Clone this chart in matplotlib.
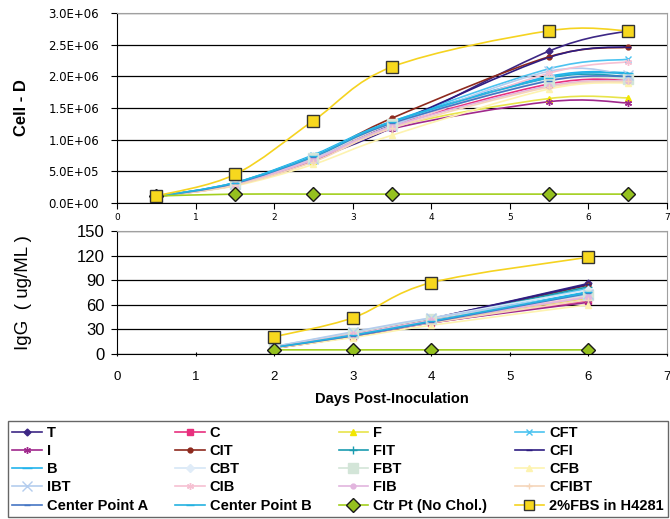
import matplotlib
matplotlib.use("Agg")
import matplotlib.pyplot as plt
from matplotlib.path import Path
from matplotlib.patches import PathPatch
from matplotlib.lines import Line2D

plt.rcParams["font.family"] = ["Liberation Sans", "DejaVu Sans"]

# sampling days for each assay
days_cell = [0.5, 1.5, 2.5, 3.5, 5.5, 6.5]
days_igg = [2, 3, 4, 6]

# series names, in the order the legend reads (row by row)
names = ["T", "C", "F", "CFT",
         "I", "CIT", "FIT", "CFI",
         "B", "CBT", "FBT", "CFB",
         "IBT", "CIB", "FIB", "CFIBT",
         "Center Point A", "Center Point B", "Ctr Pt (No Chol.)", "2%FBS in H4281"]

# cell density per series
cell_T = [1.0e5, 3.0e5, 6.9e5, 1.19e6, 2.40e6, 2.72e6]
cell_C = [1.0e5, 2.9e5, 6.8e5, 1.22e6, 1.88e6, 1.95e6]
cell_F = [1.0e5, 2.9e5, 6.7e5, 1.20e6, 1.65e6, 1.66e6]
cell_CFT = [1.0e5, 3.2e5, 7.5e5, 1.28e6, 2.12e6, 2.27e6]
cell_I = [1.0e5, 2.8e5, 6.6e5, 1.17e6, 1.60e6, 1.58e6]
cell_CIT = [1.0e5, 3.0e5, 7.2e5, 1.34e6, 2.31e6, 2.46e6]
cell_FIT = [1.0e5, 3.1e5, 7.3e5, 1.26e6, 1.97e6, 2.00e6]
cell_CFI = [1.0e5, 3.0e5, 7.0e5, 1.24e6, 2.30e6, 2.47e6]
cell_B = [1.0e5, 3.2e5, 7.6e5, 1.29e6, 2.00e6, 2.06e6]
cell_CBT = [1.0e5, 3.1e5, 7.4e5, 1.27e6, 1.95e6, 1.98e6]
cell_FBT = [1.0e5, 3.0e5, 7.1e5, 1.25e6, 1.93e6, 1.96e6]
cell_CFB = [1.0e5, 2.7e5, 6.1e5, 1.07e6, 1.80e6, 1.90e6]
cell_IBT = [1.0e5, 3.0e5, 7.0e5, 1.22e6, 2.08e6, 2.02e6]
cell_CIB = [1.0e5, 2.9e5, 6.9e5, 1.19e6, 2.05e6, 2.23e6]
cell_FIB = [1.0e5, 2.9e5, 6.8e5, 1.21e6, 1.85e6, 1.93e6]
cell_CFIBT = [1.0e5, 2.8e5, 6.5e5, 1.18e6, 1.83e6, 1.92e6]
cell_CPA = [1.0e5, 3.1e5, 7.3e5, 1.26e6, 1.93e6, 2.00e6]
cell_CPB = [1.0e5, 3.2e5, 7.4e5, 1.28e6, 1.98e6, 2.05e6]
cell_CTR = [1.1e5, 1.4e5, 1.4e5, 1.4e5, 1.4e5, 1.4e5]
cell_FBS = [1.1e5, 4.5e5, 1.30e6, 2.15e6, 2.72e6, 2.72e6]

# IgG titre per series
igg_T = [8, 24, 43, 86]
igg_C = [7, 21, 38, 65]
igg_F = [8, 24, 40, 68]
igg_CFT = [9, 25, 41, 80]
igg_I = [7, 21, 38, 63]
igg_CIT = [7, 22, 41, 84]
igg_FIT = [8, 24, 42, 82]
igg_CFI = [8, 24, 43, 85]
igg_B = [8, 23, 40, 76]
igg_CBT = [9, 26, 44, 78]
igg_FBT = [9, 26, 43, 72]
igg_CFB = [7, 20, 35, 60]
igg_IBT = [9, 27, 44, 73]
igg_CIB = [8, 24, 41, 70]
igg_FIB = [8, 23, 40, 69]
igg_CFIBT = [8, 22, 38, 66]
igg_CPA = [8, 22, 39, 74]
igg_CPB = [8, 23, 40, 75]
igg_CTR = [5, 5, 5, 5]
igg_FBS = [21, 44, 87, 118]

cell_series = [cell_T, cell_C, cell_F, cell_CFT, cell_I, cell_CIT, cell_FIT, cell_CFI,
               cell_B, cell_CBT, cell_FBT, cell_CFB, cell_IBT, cell_CIB, cell_FIB, cell_CFIBT,
               cell_CPA, cell_CPB, cell_CTR, cell_FBS]
igg_series = [igg_T, igg_C, igg_F, igg_CFT, igg_I, igg_CIT, igg_FIT, igg_CFI,
              igg_B, igg_CBT, igg_FBT, igg_CFB, igg_IBT, igg_CIB, igg_FIB, igg_CFIBT,
              igg_CPA, igg_CPB, igg_CTR, igg_FBS]

star = (6, 2, 0)
# (line colour, marker, marker size, marker face, marker edge)
styles = [
    ("#3D2785", "D", 3.5, "#3D2785", "#3D2785"),
    ("#E8307E", "s", 4, "#E8307E", "#E8307E"),
    ("#E8E44A", "^", 4.5, "#F2E600", "#F2E600"),
    ("#4CC3F0", "x", 4.5, "#4CC3F0", "#4CC3F0"),
    ("#A0288C", star, 5, "#A0288C", "#A0288C"),
    ("#8E2A1E", "o", 3.5, "#8E2A1E", "#8E2A1E"),
    ("#1A9CB0", "+", 6, "#1A9CB0", "#1A9CB0"),
    ("#2E1C82", "_", 5, "#2E1C82", "#2E1C82"),
    ("#22B4EC", "_", 7, "#22B4EC", "#22B4EC"),
    ("#D5E6F6", "D", 4, "#E0ECF8", "#E0ECF8"),
    ("#D3E5D8", "s", 7, "#D3E5D8", "#D3E5D8"),
    ("#FDF3B0", "^", 5, "#FDF3B0", "#FDF3B0"),
    ("#B4CDEE", "x", 7, "#B4CDEE", "#B4CDEE"),
    ("#F6C0D2", star, 5, "#F6C0D2", "#F6C0D2"),
    ("#E2B5DE", "o", 3.5, "#E2B5DE", "#E2B5DE"),
    ("#F5D6BA", "+", 5, "#F5D6BA", "#F5D6BA"),
    ("#4576C4", "_", 4, "#4576C4", "#4576C4"),
    ("#25B2E0", "_", 6, "#25B2E0", "#25B2E0"),
    ("#A3CF1E", "D", 7, "#95C11F", "#1A1A1A"),
    ("#F5D320", "s", 8, "#F7D81E", "#333333"),
]


def smooth_curve(ax, x, y, color, lw=1.2):
    # Catmull-Rom style bezier through the points, like a spreadsheet "smoothed line"
    pts = list(zip(x, y))
    n = len(pts)
    verts = [pts[0]]
    codes = [Path.MOVETO]
    for i in range(n - 1):
        p0 = pts[max(i - 1, 0)]
        p1 = pts[i]
        p2 = pts[i + 1]
        p3 = pts[min(i + 2, n - 1)]
        c1 = (p1[0] + (p2[0] - p0[0]) / 6, p1[1] + (p2[1] - p0[1]) / 6)
        c2 = (p2[0] - (p3[0] - p1[0]) / 6, p2[1] - (p3[1] - p1[1]) / 6)
        verts += [c1, c2, p2]
        codes += [Path.CURVE4] * 3
    ax.add_patch(PathPatch(Path(verts, codes), fill=False, edgecolor=color,
                           lw=lw, transform=ax.transData))


def style_axes(ax):
    for side in ["top", "right"]:
        ax.spines[side].set_color("#A0A0A0")
    for side in ["left", "bottom"]:
        ax.spines[side].set_color("black")
    ax.set_xlim(0, 7)
    ax.set_xticks(range(8))
    ax.yaxis.grid(True, color="black", lw=0.9)
    ax.set_axisbelow(True)


fig = plt.figure(figsize=(6.7, 5.19), dpi=100)
ax1 = fig.add_axes([0.1746, 0.6089, 0.821, 0.366])
ax2 = fig.add_axes([0.1746, 0.318, 0.821, 0.237])

for vals_c, vals_i, (lc, mk, ms, mf, me) in zip(cell_series, igg_series, styles):
    smooth_curve(ax1, days_cell, vals_c, lc)
    ax1.plot(days_cell, vals_c, ls="none", marker=mk, ms=ms, mfc=mf, mec=me, mew=1.0)
    smooth_curve(ax2, days_igg, vals_i, lc)
    ax2.plot(days_igg, vals_i, ls="none", marker=mk, ms=ms, mfc=mf, mec=me, mew=1.0)

# cell density panel
style_axes(ax1)
cell_ticks = [0, 5e5, 1e6, 1.5e6, 2e6, 2.5e6, 3e6]
ax1.set_ylim(0, 3e6)
ax1.set_yticks(cell_ticks)
ax1.set_yticklabels([f"{v:.1E}" for v in cell_ticks], family="DejaVu Sans", fontsize=8.5)
ax1.set_xticklabels([str(d) for d in range(8)], family="DejaVu Sans", fontsize=6.5)
ax1.tick_params(axis="y", length=4, pad=9)
ax1.tick_params(axis="x", length=4, pad=3)
ax1.set_ylabel("Cell - D", fontsize=12, fontweight="bold", labelpad=14)

# IgG panel
style_axes(ax2)
ax2.set_ylim(0, 150)
ax2.set_yticks([0, 30, 60, 90, 120, 150])
ax2.tick_params(axis="y", length=4, pad=5, labelsize=12)
ax2.tick_params(axis="x", length=3, direction="inout", pad=11, labelsize=9.5)
ax2.set_ylabel("IgG  ( ug/ML )", fontsize=13.5, labelpad=32)
ax2.set_xlabel("Days Post-Inoculation", fontsize=10.5, fontweight="bold", labelpad=6)

# legend: rebuild handles so each shows line + marker
handles = []
for name, (lc, mk, ms, mf, me) in zip(names, styles):
    handles.append(Line2D([], [], color=lc, lw=1.2, marker=mk, ms=min(ms, 7),
                          mfc=mf, mec=me, label=name))
order = [i for col in range(4) for i in range(col, len(names), 4)]
leg = fig.legend([handles[i] for i in order], [names[i] for i in order],
                 loc="lower left", bbox_to_anchor=(8 / 670, 2 / 519, 660 / 670, 96 / 519),
                 mode="expand", ncol=4, frameon=True, fancybox=False,
                 edgecolor="#404040", borderaxespad=0, handlelength=2.0,
                 handletextpad=0.35, labelspacing=0.29, borderpad=0.3,
                 prop={"weight": "bold", "size": 10.5})
leg.get_frame().set_linewidth(1.0)

fig.savefig("out.png", dpi=100)
